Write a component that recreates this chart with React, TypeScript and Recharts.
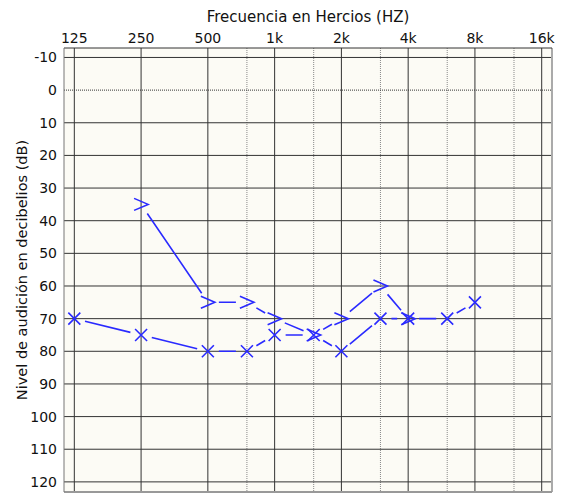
import React from 'react';
import { ScatterChart, Scatter, XAxis, YAxis, CartesianGrid, ReferenceLine } from 'recharts';

const freqTicks = [125, 250, 500, 1000, 2000, 4000, 8000, 16000];
const freqLabels = ['125', '250', '500', '1k', '2k', '4k', '8k', '16k'];
const halfOctaves = [750, 1500, 3000, 6000, 12000];
const dbTicks = [-10, 0, 10, 20, 30, 40, 50, 60, 70, 80, 90, 100, 110, 120];

const airFreqs = [125, 250, 500, 750, 1000, 1500, 2000, 3000, 4000, 6000, 8000];
const airLevels = [70, 75, 80, 80, 75, 75, 80, 70, 70, 70, 65];
const boneFreqs = [250, 500, 750, 1000, 1500, 2000, 3000, 4000];
const boneLevels = [35, 65, 65, 70, 75, 70, 60, 70];

const airData = airFreqs.map((hz, i) => ({ hz, db: airLevels[i] }));
const boneData = boneFreqs.map((hz, i) => ({ hz, db: boneLevels[i] }));

const X_DOMAIN: [number, number] = [112.3, 17806];
const Y_DOMAIN: [number, number] = [-12.9, 123.1];

const BLUE = '#2a2aff';
const FONT = 'DejaVu Sans, Verdana, sans-serif';
const GAP = 11;

const TrimmedLine = (props: any) => {
  const pts = props.points || [];
  const segs: string[] = [];
  for (let i = 0; i < pts.length - 1; i++) {
    const a = pts[i];
    const b = pts[i + 1];
    const dx = b.x - a.x;
    const dy = b.y - a.y;
    const len = Math.sqrt(dx * dx + dy * dy);
    if (len <= 2 * GAP) continue;
    const ux = dx / len;
    const uy = dy / len;
    segs.push(`M${a.x + ux * GAP},${a.y + uy * GAP}L${b.x - ux * GAP},${b.y - uy * GAP}`);
  }
  return <path d={segs.join('')} stroke={BLUE} strokeWidth={1.6} fill="none" />;
};

const CrossMark = (props: any) => {
  const { cx, cy } = props;
  const s = 6;
  return (
    <path
      d={`M${cx - s},${cy - s}L${cx + s},${cy + s}M${cx - s},${cy + s}L${cx + s},${cy - s}`}
      stroke={BLUE}
      strokeWidth={1.6}
      fill="none"
    />
  );
};

const ChevronMark = (props: any) => {
  const { cx, cy } = props;
  return (
    <path
      d={`M${cx - 7},${cy - 6}L${cx + 7},${cy}L${cx - 7},${cy + 6}`}
      stroke={BLUE}
      strokeWidth={1.6}
      fill="none"
    />
  );
};

export default function App() {
  return (
    <div style={{ position: 'absolute', left: 0, top: 0, width: 571, height: 493, background: '#fff' }}>
      <ScatterChart width={571} height={493} margin={{ top: 0, right: 19, bottom: 1, left: 0 }}>
        <CartesianGrid fill="#fcfbf5" horizontal={false} vertical={false} />
        <XAxis
          type="number"
          dataKey="hz"
          scale="log"
          domain={X_DOMAIN}
          allowDataOverflow
          ticks={freqTicks}
          orientation="top"
          height={48}
          tickSize={0}
          tickMargin={5}
          tickLine={false}
          axisLine={{ stroke: '#333', strokeWidth: 1 }}
          tickFormatter={(v: number) => freqLabels[freqTicks.indexOf(v)] ?? ''}
          tick={{ fill: '#111', fontSize: 14, fontFamily: FONT }}
          interval={0}
          label={{
            content: () => (
              <text x={308} y={22} textAnchor="middle" fill="#111" fontSize={15} fontFamily={FONT}>
                Frecuencia en Hercios (HZ)
              </text>
            ),
          }}
        />
        <YAxis
          type="number"
          dataKey="db"
          reversed
          domain={Y_DOMAIN}
          allowDataOverflow
          ticks={dbTicks}
          width={64}
          tickSize={0}
          tickMargin={7}
          tickLine={false}
          interval={0}
          axisLine={{ stroke: '#777', strokeWidth: 1 }}
          tick={{ fill: '#111', fontSize: 14, fontFamily: FONT }}
          label={{
            content: () => (
              <text
                x={22}
                y={270}
                transform="rotate(-90 22 270)"
                textAnchor="middle"
                dominantBaseline="central"
                fill="#111"
                fontSize={14.5}
                fontFamily={FONT}
              >
                Nivel de audición en decibelios (dB)
              </text>
            ),
          }}
        />
        {halfOctaves.map((f) => (
          <ReferenceLine key={'h' + f} x={f} stroke="#888" strokeWidth={1} strokeDasharray="1 1" />
        ))}
        {freqTicks.map((f) => (
          <ReferenceLine key={'o' + f} x={f} stroke="#333" strokeWidth={1} />
        ))}
        {dbTicks.map((d) => (
          <ReferenceLine
            key={'d' + d}
            y={d}
            stroke="#333"
            strokeWidth={1}
            strokeDasharray={d === 0 ? '1 1' : undefined}
          />
        ))}
        <ReferenceLine x={X_DOMAIN[1]} stroke="#aaa" strokeWidth={2} />
        <ReferenceLine y={Y_DOMAIN[1]} stroke="#999" strokeWidth={2} />
        <Scatter
          data={boneData}
          line={<TrimmedLine />}
          lineType="joint"
          shape={<ChevronMark />}
          isAnimationActive={false}
        />
        <Scatter
          data={airData}
          line={<TrimmedLine />}
          lineType="joint"
          shape={<CrossMark />}
          isAnimationActive={false}
        />
      </ScatterChart>
    </div>
  );
}
